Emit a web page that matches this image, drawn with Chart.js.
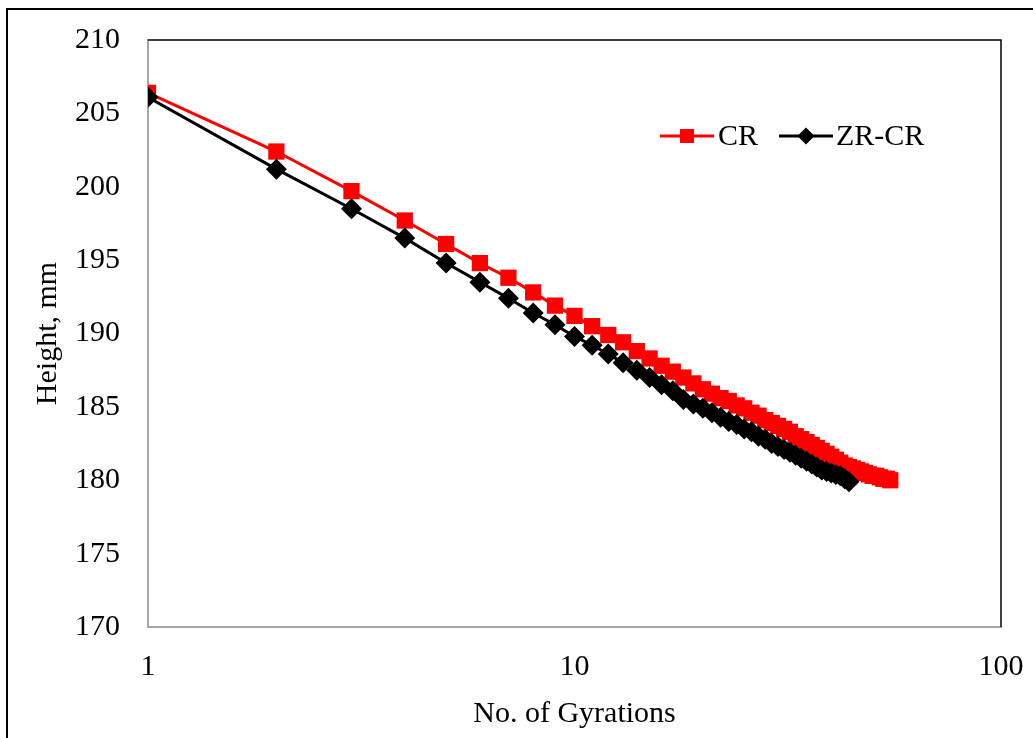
<!DOCTYPE html>
<html>
<head>
<meta charset="utf-8">
<script src="https://cdn.jsdelivr.net/npm/chart.js@4/dist/chart.umd.min.js"></script>
<style>
  html, body { margin: 0; padding: 0; background: #fff; }
  #wrap { width: 1033px; height: 738px; position: relative; }
</style>
</head>
<body>
<div id="wrap"><canvas id="chart"></canvas></div>
<script>
// Altura (mm) por número de giros
const heightsCR = [
  206.4, 202.4, 199.7, 197.7, 196.1, 194.8, 193.8, 192.8, 191.9, 191.2,
  190.5, 189.9, 189.4, 188.8, 188.3, 187.8, 187.4, 187.0, 186.6, 186.2,
  185.9, 185.6, 185.4, 185.1, 184.9, 184.6, 184.4, 184.1, 183.9, 183.7,
  183.5, 183.3, 183.0, 182.8, 182.6, 182.4, 182.2, 182.0, 181.8, 181.6,
  181.4, 181.2, 181.0, 180.9, 180.8, 180.7, 180.6, 180.5, 180.4, 180.3,
  180.3, 180.2, 180.1, 180.1, 180.0
];
const heightsZRCR = [
  206.1, 201.2, 198.5, 196.5, 194.8, 193.5, 192.4, 191.4, 190.6, 189.8,
  189.2, 188.6, 188.0, 187.5, 187.0, 186.5, 186.1, 185.5, 185.2, 184.9,
  184.6, 184.3, 184.0, 183.8, 183.5, 183.3, 183.0, 182.8, 182.5, 182.3,
  182.1, 181.9, 181.7, 181.5, 181.3, 181.1, 180.9, 180.7, 180.6, 180.5,
  180.4, 180.3, 180.1, 179.9
];
const seriesNames = ['CR', 'ZR-CR'];
const xTicks = [1, 10, 100];
const yMin = 170, yMax = 210, yStep = 5;

const FONT = "'Liberation Serif', 'Times New Roman', serif";
const RED = '#ff0000';
const BLACK = '#000000';

// número de giro = posición + 1
const toPoints = arr => arr.map((h, i) => ({ x: i + 1, y: h }));

// sin relleno extra por etiquetas que sobresalen
function noOverflow(s) {
  s.paddingLeft = 0; s.paddingRight = 0;
  s.paddingTop = 0; s.paddingBottom = 0;
}

/* ─── marco exterior y bordes superior/derecho del área ─── */
const framePlugin = {
  id: 'frame',
  beforeDraw(chart) {
    const ctx = chart.ctx;
    ctx.save();
    ctx.fillStyle = '#fff';
    ctx.fillRect(0, 0, chart.width, chart.height);
    ctx.strokeStyle = '#000';
    ctx.lineWidth = 2;
    ctx.strokeRect(7, 9, chart.width + 20, chart.height + 20);
    ctx.restore();
  },
  afterDatasetsDraw(chart) {
    const { ctx, chartArea: a } = chart;
    ctx.save();
    ctx.strokeStyle = '#000';
    ctx.lineWidth = 1.5;
    ctx.beginPath();
    ctx.moveTo(a.left, a.top);
    ctx.lineTo(a.right, a.top);
    ctx.lineTo(a.right, a.bottom);
    ctx.stroke();
    ctx.restore();
  }
};

/* ─── leyenda: línea + marcador, como en Excel ─── */
const legendPlugin = {
  id: 'lineLegend',
  afterDraw(chart) {
    const ctx = chart.ctx;
    const items = [
      { x: 660, w: 54, tx: 718 },
      { x: 779, w: 54, tx: 836 }
    ];
    const y = 136;
    ctx.save();
    chart.data.datasets.forEach((ds, i) => {
      const it = items[i];
      ctx.strokeStyle = ds.borderColor;
      ctx.fillStyle = ds.borderColor;
      ctx.lineWidth = 3;
      ctx.beginPath();
      ctx.moveTo(it.x, y);
      ctx.lineTo(it.x + it.w, y);
      ctx.stroke();
      const cx = it.x + it.w / 2;
      ctx.beginPath();
      if (ds.pointStyle === 'rect') {
        ctx.rect(cx - 7, y - 7, 14, 14);
      } else {
        ctx.moveTo(cx, y - 8.5); ctx.lineTo(cx + 8.5, y);
        ctx.lineTo(cx, y + 8.5); ctx.lineTo(cx - 8.5, y);
        ctx.closePath();
      }
      ctx.fill();
      ctx.fillStyle = '#000';
      ctx.font = '30px ' + FONT;
      ctx.textBaseline = 'middle';
      ctx.textAlign = 'left';
      ctx.fillText(ds.label, it.tx, y + 1);
    });
    ctx.restore();
  }
};

new Chart(document.getElementById('chart'), {
  type: 'line',
  data: {
    datasets: [
      {
        label: seriesNames[0],
        data: toPoints(heightsCR),
        borderColor: RED,
        backgroundColor: RED,
        borderWidth: 3,
        pointStyle: 'rect',
        pointRadius: 11.5,
        pointBorderWidth: 0,
        pointBackgroundColor: RED,
        tension: 0,
        order: 1
      },
      {
        label: seriesNames[1],
        data: toPoints(heightsZRCR),
        borderColor: BLACK,
        backgroundColor: BLACK,
        borderWidth: 3,
        pointStyle: 'rectRot',
        pointRadius: 10.5,
        pointBorderWidth: 0,
        pointBackgroundColor: BLACK,
        tension: 0,
        order: 0
      }
    ]
  },
  options: {
    responsive: true,
    maintainAspectRatio: false,
    animation: false,
    devicePixelRatio: 1,
    layout: { padding: { left: 0, top: 40, right: 32, bottom: 0 } },
    plugins: {
      legend: { display: false },
      tooltip: { enabled: false }
    },
    scales: {
      x: {
        type: 'logarithmic',
        min: 1,
        max: 100,
        afterBuildTicks: s => { s.ticks = xTicks.map(v => ({ value: v })); },
        afterFit: s => { s.height = 111; noOverflow(s); },
        grid: { display: false, drawTicks: false },
        border: { display: true, color: '#a6a6a6', width: 2 },
        ticks: {
          color: '#000',
          font: { family: FONT, size: 30 },
          padding: 22,
          maxRotation: 0,
          autoSkip: false,
          callback: v => String(v)
        },
        title: {
          display: true,
          text: 'No. of Gyrations',
          color: '#000',
          font: { family: FONT, size: 30 },
          padding: { top: 0, bottom: 6 }
        }
      },
      y: {
        min: yMin,
        max: yMax,
        afterFit: s => { s.width = 148; noOverflow(s); },
        grid: { display: false, drawTicks: false },
        border: { display: true, color: '#a6a6a6', width: 2 },
        ticks: {
          stepSize: yStep,
          color: '#000',
          font: { family: FONT, size: 30 },
          padding: 28
        },
        title: {
          display: true,
          text: 'Height, mm',
          color: '#000',
          font: { family: FONT, size: 30 },
          padding: { top: 30, bottom: 0 }
        }
      }
    }
  },
  plugins: [framePlugin, legendPlugin]
});
</script>
</body>
</html>
